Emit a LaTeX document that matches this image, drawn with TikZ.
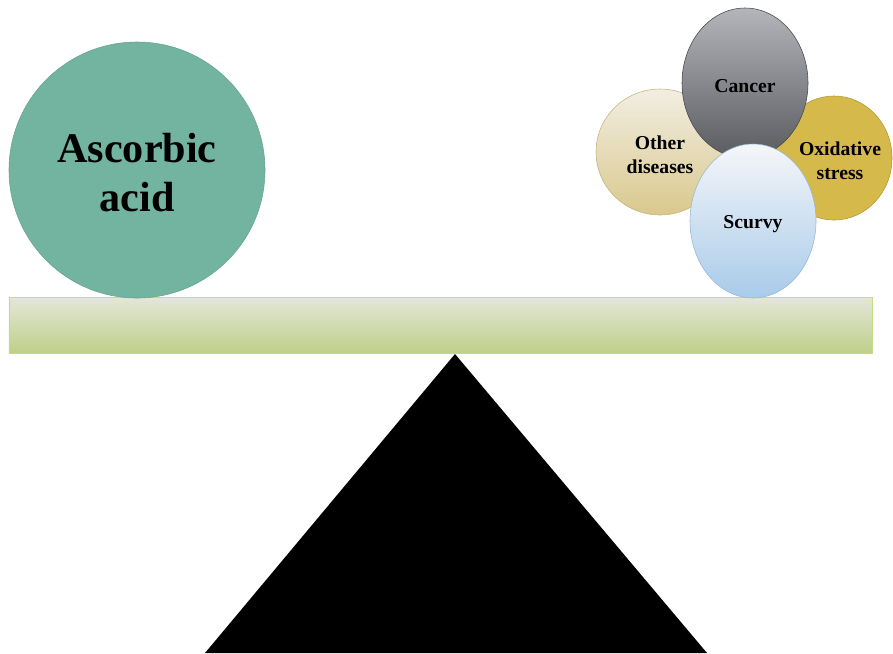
\documentclass[tikz,border=0pt]{standalone}
\usepackage{fontspec}
\setmainfont{Liberation Serif}
\usepackage{tikz}
\usetikzlibrary{shapes.geometric}
\definecolor{Teal}{HTML}{72B4A0}
\definecolor{TealEdge}{HTML}{66A590}
\definecolor{BeamTop}{HTML}{E4E6D9}
\definecolor{BeamBot}{HTML}{BECF86}
\definecolor{BeamEdge}{HTML}{C6DA8E}
\definecolor{GreyTop}{HTML}{B3B5BB}
\definecolor{GreyBot}{HTML}{595B5F}
\definecolor{SandTop}{HTML}{F2EEE2}
\definecolor{SandBot}{HTML}{D9C88D}
\definecolor{Gold}{HTML}{D5B94A}
\definecolor{GoldEdge}{HTML}{B39834}
\definecolor{SkyTop}{HTML}{F5F6F9}
\definecolor{SkyBot}{HTML}{A8CBEA}

\begin{document}
\begin{tikzpicture}[
  blob/.style={ellipse, draw, inner sep=0pt},
  tag/.style={align=center, yshift=-0.08cm, font=\fontsize{14}{17}\selectfont\bfseries}]
\useasboundingbox (0,0) rectangle (22.325,-16.325);

% the pivot and the beam
\fill[black] (11.375,-8.85) coordinate (tip) -- (17.675,-16.325) -- (5.125,-16.325) -- cycle;
\node[draw=BeamEdge, top color=BeamTop, bottom color=BeamBot, minimum width=21.575cm,
  minimum height=1.4cm, inner sep=0pt, anchor=south] (beam) at (11.0125,-8.85) {};

% left pan
\node[circle, draw=TealEdge, fill=Teal, minimum size=6.4cm] (ascorbic) at (3.425,-4.25) {};
\node[align=center, font=\fontsize{30}{35}\selectfont\bfseries]
  at ([yshift=-0.06cm]ascorbic.center) {Ascorbic\\acid};

% right pan
\node[blob, draw=SandBot!90!black, top color=SandTop, bottom color=SandBot,
  minimum width=3.2cm, minimum height=3.15cm] (other) at (16.5,-3.8) {};
\node[tag] at (other) {Other\\diseases};
\node[blob, draw=GoldEdge, fill=Gold, minimum width=2.9cm, minimum height=3.1cm]
  (oxid) at (20.85,-3.95) {};
\node[tag, xshift=0.15cm] at (oxid) {Oxidative\\stress};
\node[blob, draw=GreyBot!80!black, top color=GreyTop, bottom color=GreyBot,
  minimum width=3.15cm, minimum height=3.75cm] (cancer) at (18.625,-2.075) {};
\node[tag] at (cancer) {Cancer};
\node[blob, draw=SkyBot!90!black, top color=SkyTop, bottom color=SkyBot,
  minimum width=3.15cm, minimum height=3.85cm] (scurvy) at (18.825,-5.525) {};
\node[tag] at (scurvy) {Scurvy};
\end{tikzpicture}
\end{document}
